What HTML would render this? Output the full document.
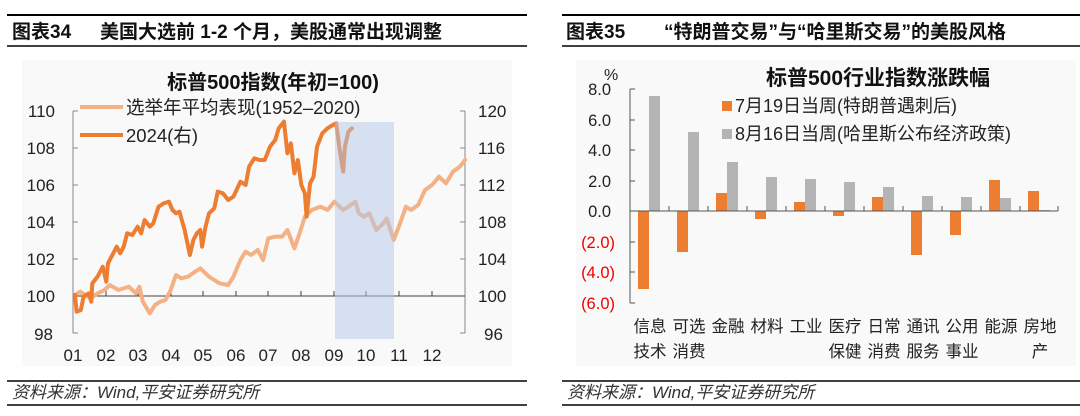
<!DOCTYPE html>
<html><head><meta charset="utf-8"><style>
html,body{margin:0;padding:0;background:#fff;width:1080px;height:416px;overflow:hidden}
svg{display:block;font-family:"Liberation Sans","Noto Sans CJK SC",sans-serif}
</style></head><body>
<svg width="1080" height="416" viewBox="0 0 1080 416" xmlns="http://www.w3.org/2000/svg">
<!-- Left panel -->
<line x1="7" y1="15" x2="527" y2="15" stroke="#000" stroke-width="2"/>
<line x1="7" y1="46" x2="527" y2="46" stroke="#000" stroke-width="1.5"/>
<text x="12" y="38" font-size="19" font-weight="bold" fill="#111">图表34</text>
<text x="100" y="38" font-size="19" font-weight="bold" fill="#111">美国大选前 1-2 个月，美股通常出现调整</text>
<rect x="22" y="60" width="490" height="306" fill="#f9f9f9"/>
<text x="273" y="89" font-size="20" font-weight="bold" text-anchor="middle" fill="#111">标普500指数(年初=100)</text>
<!-- axes -->
<line x1="73" y1="111" x2="73" y2="333" stroke="#888"/>
<line x1="465" y1="111" x2="465" y2="333" stroke="#888"/>
<g stroke="#888"><line x1="73" y1="111" x2="78" y2="111"/><line x1="73" y1="148" x2="78" y2="148"/><line x1="73" y1="185" x2="78" y2="185"/><line x1="73" y1="222" x2="78" y2="222"/><line x1="73" y1="259" x2="78" y2="259"/><line x1="73" y1="333" x2="78" y2="333"/>
<line x1="460" y1="111" x2="465" y2="111"/><line x1="460" y1="148" x2="465" y2="148"/><line x1="460" y1="185" x2="465" y2="185"/><line x1="460" y1="222" x2="465" y2="222"/><line x1="460" y1="259" x2="465" y2="259"/><line x1="460" y1="333" x2="465" y2="333"/></g>
<line x1="73" y1="296" x2="465" y2="296" stroke="#444"/>
<g stroke="#444"><line x1="106" y1="291" x2="106" y2="296"/><line x1="138" y1="291" x2="138" y2="296"/><line x1="171" y1="291" x2="171" y2="296"/><line x1="203" y1="291" x2="203" y2="296"/><line x1="236" y1="291" x2="236" y2="296"/><line x1="268" y1="291" x2="268" y2="296"/><line x1="301" y1="291" x2="301" y2="296"/><line x1="334" y1="291" x2="334" y2="296"/><line x1="366" y1="291" x2="366" y2="296"/><line x1="399" y1="291" x2="399" y2="296"/><line x1="432" y1="291" x2="432" y2="296"/></g>
<g font-size="17" fill="#222" text-anchor="end">
<text x="55" y="117">110</text><text x="55" y="154">108</text><text x="55" y="191">106</text><text x="55" y="228">104</text><text x="55" y="265">102</text><text x="55" y="302">100</text><text x="53" y="340">98</text></g>
<g font-size="17" fill="#222">
<text x="478" y="117">120</text><text x="478" y="154">116</text><text x="478" y="191">112</text><text x="478" y="228">108</text><text x="478" y="265">104</text><text x="478" y="302">100</text><text x="484" y="340">96</text></g>
<g font-size="17" fill="#222" text-anchor="middle">
<text x="73" y="361">01</text><text x="106" y="361">02</text><text x="138" y="361">03</text><text x="171" y="361">04</text><text x="203" y="361">05</text><text x="236" y="361">06</text><text x="268" y="361">07</text><text x="301" y="361">08</text><text x="334" y="361">09</text><text x="366" y="361">10</text><text x="399" y="361">11</text><text x="432" y="361">12</text></g>
<g transform="scale(0.3484,0.33333)" fill="none" stroke-linejoin="round" stroke-linecap="round">
<polyline vector-effect="non-scaling-stroke" stroke="#f4b183" stroke-width="4" points="215,885 230,875 260,895 280,880 300,870 315,855 340,870 370,860 390,880 400,860 410,905 430,940 445,915 460,905 475,900 490,870 505,825 520,835 540,830 560,815 575,805 600,830 630,850 655,855 670,830 690,780 705,755 720,765 740,750 755,780 770,715 790,710 810,710 825,690 845,745 860,700 875,650 895,630 920,620 940,630 960,605 985,630 1000,620 1020,605 1030,640 1045,650 1060,640 1080,690 1100,670 1110,655 1130,720 1150,665 1165,620 1180,630 1200,615 1220,570 1240,555 1260,530 1280,550 1300,515 1320,500 1335,480"/>
<polyline vector-effect="non-scaling-stroke" stroke="#ed7d31" stroke-width="4" points="215,885 220,935 232,930 240,890 255,880 262,905 265,850 280,830 295,800 305,845 310,790 325,760 335,740 345,760 355,740 365,700 380,705 395,680 405,700 415,660 430,680 440,670 455,620 470,610 485,605 495,630 505,640 515,635 530,690 545,765 555,720 565,700 575,690 580,740 590,680 600,640 615,625 625,575 640,580 655,600 670,590 690,545 705,555 715,500 730,475 745,480 760,480 775,440 790,420 800,385 815,365 825,460 835,430 845,520 855,480 865,555 875,580 880,650 890,550 900,530 910,440 925,400 940,385 955,375 965,370 975,450 985,515 990,440 1000,395 1010,385"/>
</g>
<rect x="335" y="122" width="59" height="217" fill="#b4c7e7" opacity="0.5"/>
<line x1="80" y1="107" x2="123" y2="107" stroke="#f4b183" stroke-width="4"/>
<text x="126" y="114" font-size="18.5" fill="#222">选举年平均表现(1952–2020)</text>
<line x1="80" y1="135" x2="123" y2="135" stroke="#ed7d31" stroke-width="4"/>
<text x="126" y="142" font-size="18.5" fill="#222">2024(右)</text>
<line x1="7" y1="381" x2="527" y2="381" stroke="#000" stroke-width="1.5"/>
<text x="12" y="398" font-size="17" font-style="italic" fill="#333">资料来源：Wind,平安证券研究所</text>
<line x1="7" y1="405" x2="527" y2="405" stroke="#000" stroke-width="1.5"/>

<!-- Right panel -->
<line x1="562" y1="15" x2="1080" y2="15" stroke="#000" stroke-width="2"/>
<line x1="562" y1="46" x2="1080" y2="46" stroke="#000" stroke-width="1.5"/>
<text x="566" y="38" font-size="19" font-weight="bold" fill="#111">图表35</text>
<text x="664" y="38" font-size="19" font-weight="bold" fill="#111">“特朗普交易”与“哈里斯交易”的美股风格</text>
<rect x="576" y="60" width="500" height="306" fill="#f9f9f9"/>
<text x="878" y="85" font-size="21" font-weight="bold" text-anchor="middle" fill="#111">标普500行业指数涨跌幅</text>
<text x="604" y="80" font-size="16" fill="#222">%</text>
<line x1="630" y1="89" x2="630" y2="303" stroke="#555"/>
<g stroke="#555"><line x1="630" y1="89" x2="635" y2="89"/><line x1="630" y1="120" x2="635" y2="120"/><line x1="630" y1="150" x2="635" y2="150"/><line x1="630" y1="181" x2="635" y2="181"/><line x1="630" y1="242" x2="635" y2="242"/><line x1="630" y1="272" x2="635" y2="272"/><line x1="630" y1="303" x2="635" y2="303"/></g>
<g font-size="16.5" text-anchor="end">
<text x="611" y="95" fill="#222">8.0</text><text x="611" y="126" fill="#222">6.0</text><text x="611" y="156" fill="#222">4.0</text><text x="611" y="187" fill="#222">2.0</text><text x="611" y="217" fill="#222">0.0</text>
<text x="615" y="248" fill="#e00">(2.0)</text><text x="615" y="278" fill="#e00">(4.0)</text><text x="615" y="309" fill="#e00">(6.0)</text></g>
<g fill="#ed7d31">
<rect x="638" y="211" width="11" height="78"/><rect x="677" y="211" width="11" height="41"/><rect x="716" y="193" width="11" height="18"/><rect x="755" y="211" width="11" height="8"/><rect x="794" y="202" width="11" height="9"/><rect x="833" y="211" width="11" height="5"/><rect x="872" y="197" width="11" height="14"/><rect x="911" y="211" width="11" height="44"/><rect x="950" y="211" width="11" height="24"/><rect x="989" y="180" width="11" height="31"/><rect x="1028" y="191" width="11" height="20"/></g>
<g fill="#b4b4b4">
<rect x="649" y="96" width="11" height="115"/><rect x="688" y="132" width="11" height="79"/><rect x="727" y="162" width="11" height="49"/><rect x="766" y="177" width="11" height="34"/><rect x="805" y="179" width="11" height="32"/><rect x="844" y="182" width="11" height="29"/><rect x="883" y="187" width="11" height="24"/><rect x="922" y="196" width="11" height="15"/><rect x="961" y="197" width="11" height="14"/><rect x="1000" y="198" width="11" height="13"/><rect x="1039" y="210" width="11" height="1"/></g>
<line x1="630" y1="211" x2="1058" y2="211" stroke="#555"/>
<g stroke="#555"><line x1="669" y1="206" x2="669" y2="211"/><line x1="708" y1="206" x2="708" y2="211"/><line x1="747" y1="206" x2="747" y2="211"/><line x1="786" y1="206" x2="786" y2="211"/><line x1="825" y1="206" x2="825" y2="211"/><line x1="864" y1="206" x2="864" y2="211"/><line x1="903" y1="206" x2="903" y2="211"/><line x1="942" y1="206" x2="942" y2="211"/><line x1="981" y1="206" x2="981" y2="211"/><line x1="1020" y1="206" x2="1020" y2="211"/><line x1="1058" y1="206" x2="1058" y2="211"/></g>
<rect x="722" y="101" width="10" height="10" fill="#ed7d31"/>
<text x="735" y="112" font-size="18" fill="#222">7月19日当周(特朗普遇刺后)</text>
<rect x="722" y="129" width="10" height="10" fill="#b4b4b4"/>
<text x="735" y="140" font-size="18" fill="#222">8月16日当周(哈里斯公布经济政策)</text>
<g font-size="16.5" fill="#222" text-anchor="middle">
<text x="650" y="332">信息</text><text x="650" y="357">技术</text>
<text x="689" y="332">可选</text><text x="689" y="357">消费</text>
<text x="728" y="332">金融</text>
<text x="767" y="332">材料</text>
<text x="806" y="332">工业</text>
<text x="845" y="332">医疗</text><text x="845" y="357">保健</text>
<text x="884" y="332">日常</text><text x="884" y="357">消费</text>
<text x="923" y="332">通讯</text><text x="923" y="357">服务</text>
<text x="962" y="332">公用</text><text x="962" y="357">事业</text>
<text x="1001" y="332">能源</text>
<text x="1040" y="332">房地</text><text x="1040" y="357">产</text></g>
<line x1="562" y1="381" x2="1080" y2="381" stroke="#000" stroke-width="1.5"/>
<text x="567" y="398" font-size="17" font-style="italic" fill="#333">资料来源：Wind,平安证券研究所</text>
<line x1="562" y1="405" x2="1080" y2="405" stroke="#000" stroke-width="1.5"/>
</svg>
</body></html>
